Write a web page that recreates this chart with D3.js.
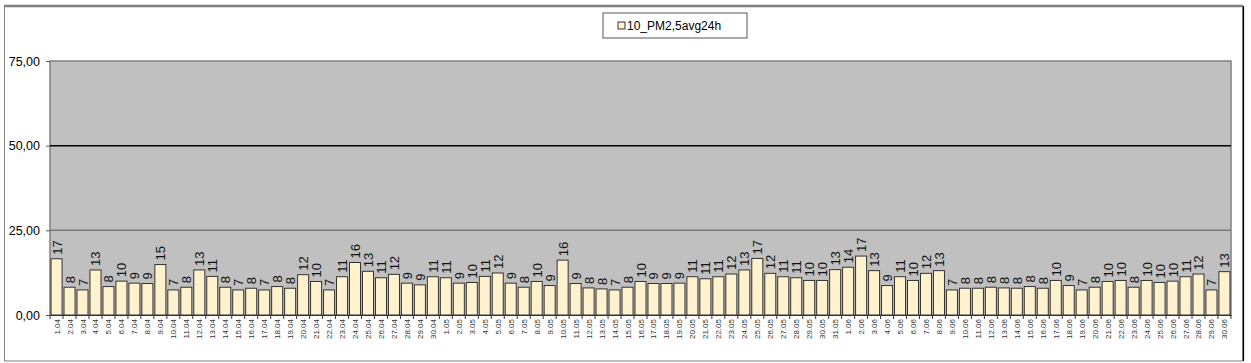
<!DOCTYPE html>
<html>
<head>
<meta charset="utf-8">
<script src="https://cdn.jsdelivr.net/npm/d3@7"></script>
<style>
  body { margin: 0; background: #fff; }
  text { font-family: "Liberation Sans", Arial, sans-serif; }
</style>
</head>
<body>
<svg id="chart" width="1251" height="363"></svg>
<script>
// dates (1 April - 30 June)
const days = [];
[[4, 30], [5, 31], [6, 30]].forEach(([m, n]) => {
  for (let d = 1; d <= n; d++) days.push(d + "." + String(m).padStart(2, "0"));
});

// daily PM2,5 averages
const april = [16.6, 8.2, 7.4, 13.3, 8.4, 10.0, 9.4, 9.3, 14.9, 7.4,
  8.2, 13.3, 11.4, 8.2, 7.4, 7.9, 7.4, 8.4, 7.9, 11.9,
  9.9, 7.4, 11.3, 15.5, 12.9, 11.0, 12.0, 9.4, 8.9, 11.3];
const may = [11.0, 9.4, 9.6, 11.4, 12.4, 9.4, 8.2, 9.9, 8.7, 16.2,
  9.3, 8.0, 7.7, 7.4, 8.2, 9.9, 9.3, 9.3, 9.4, 11.3,
  10.7, 11.3, 12.1, 13.3, 16.7, 12.3, 11.3, 11.0, 10.2, 10.2, 13.4];
const june = [14.1, 17.4, 13.1, 8.7, 11.3, 10.2, 12.3, 13.1, 7.4, 7.9,
  7.9, 8.2, 8.0, 7.9, 8.4, 7.9, 10.2, 8.7, 7.4, 8.2,
  9.9, 10.2, 8.2, 10.2, 9.6, 10.0, 11.3, 12.1, 7.4, 12.8];
const values = april.concat(may, june);

const yTicks = [0, 25, 50, 75];
const seriesName = "10_PM2,5avg24h";

const svg = d3.select("#chart");
const plot = { left: 50, right: 1231, top: 61, bottom: 315 };

const x = d3.scaleBand().domain(days).range([plot.left, plot.right]).paddingInner(0.15).paddingOuter(0.08);
const y = d3.scaleLinear().domain([0, 75]).range([plot.bottom, plot.top]);

// cadre extérieur
svg.append("rect").attr("x", 4.5).attr("y", 6).attr("width", 1238).attr("height", 355)
  .attr("fill", "none").attr("stroke", "#7f7f7f").attr("stroke-width", 1);
svg.append("line").attr("x1", 4).attr("x2", 1243).attr("y1", 6).attr("y2", 6)
  .attr("stroke", "#7f7f7f").attr("stroke-width", 2.5);
svg.append("line").attr("x1", 1243.5).attr("x2", 1243.5).attr("y1", 6).attr("y2", 361)
  .attr("stroke", "#000").attr("stroke-width", 1.2);

// fond du graphique
svg.append("rect").attr("x", plot.left).attr("y", plot.top)
  .attr("width", plot.right - plot.left).attr("height", plot.bottom - plot.top)
  .attr("fill", "#c0c0c0").attr("stroke", "#808080").attr("stroke-width", 1.5);

// lignes de grille
svg.append("line").attr("x1", plot.left).attr("x2", plot.right)
  .attr("y1", y(25)).attr("y2", y(25)).attr("stroke", "#7a7a7a").attr("stroke-width", 1.5);
svg.append("line").attr("x1", plot.left).attr("x2", plot.right)
  .attr("y1", y(50)).attr("y2", y(50)).attr("stroke", "#000").attr("stroke-width", 1.5);

// barres
svg.selectAll(".bar").data(values).enter().append("rect")
  .attr("class", "bar")
  .attr("x", (d, i) => x(days[i]))
  .attr("y", d => y(d))
  .attr("width", x.bandwidth())
  .attr("height", d => y(0) - y(d))
  .attr("fill", "#fff2cc")
  .attr("stroke", "#333")
  .attr("stroke-width", 1);

// étiquettes de valeurs
svg.selectAll(".val").data(values).enter().append("text")
  .attr("class", "val")
  .attr("transform", (d, i) => `translate(${x(days[i]) + x.bandwidth() / 2 + 5},${y(d) - 4}) rotate(-90)`)
  .attr("font-size", 13)
  .attr("fill", "#111")
  .text(d => Math.round(d));

// axe Y
const yAxis = d3.axisLeft(y).tickValues(yTicks).tickSize(4).tickPadding(6)
  .tickFormat(d => d3.format(".2f")(d).replace(".", ","));
const gy = svg.append("g").attr("transform", `translate(${plot.left},0)`).call(yAxis);
gy.select(".domain").remove();
gy.selectAll("line").attr("stroke", "#555");
gy.selectAll("text").attr("font-size", 12.5).attr("fill", "#000")
  .attr("font-family", "Liberation Sans, Arial, sans-serif");

// axe X
const gx = svg.append("g").attr("transform", `translate(0,${plot.bottom})`)
  .call(d3.axisBottom(x).tickSize(0).tickPadding(0));
gx.select(".domain").attr("stroke", "#333");
gx.selectAll("text")
  .attr("font-size", 8)
  .attr("fill", "#333")
  .attr("font-family", "Liberation Sans, Arial, sans-serif")
  .attr("text-anchor", "end")
  .attr("dy", null)
  .attr("transform", "translate(3,4) rotate(-90)");
// petites graduations entre les jours
const step = x.step();
svg.append("g").selectAll("line").data(d3.range(days.length + 1)).enter().append("line")
  .attr("x1", i => x(days[0]) - x.paddingInner() * step / 2 + i * step)
  .attr("x2", i => x(days[0]) - x.paddingInner() * step / 2 + i * step)
  .attr("y1", plot.bottom).attr("y2", plot.bottom + 4)
  .attr("stroke", "#333");

// légende
const lg = svg.append("g").attr("transform", "translate(603,13)");
lg.append("rect").attr("width", 144).attr("height", 25)
  .attr("fill", "#fff").attr("stroke", "#555");
lg.append("rect").attr("x", 15).attr("y", 9).attr("width", 7).attr("height", 7)
  .attr("fill", "#fff2cc").attr("stroke", "#333");
lg.append("text").attr("x", 24).attr("y", 17).attr("font-size", 12).text(seriesName);
</script>
</body>
</html>
